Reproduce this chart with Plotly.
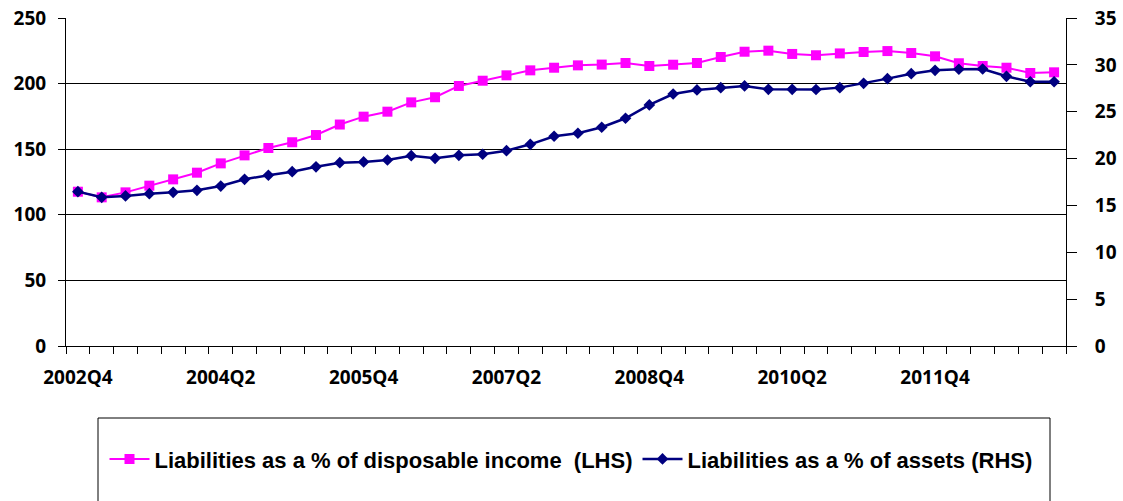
import plotly.graph_objects as go

quarters = ["2002Q4","2003Q1","2003Q2","2003Q3","2003Q4","2004Q1","2004Q2","2004Q3","2004Q4",
            "2005Q1","2005Q2","2005Q3","2005Q4","2006Q1","2006Q2","2006Q3","2006Q4",
            "2007Q1","2007Q2","2007Q3","2007Q4","2008Q1","2008Q2","2008Q3","2008Q4",
            "2009Q1","2009Q2","2009Q3","2009Q4","2010Q1","2010Q2","2010Q3","2010Q4",
            "2011Q1","2011Q2","2011Q3","2011Q4","2012Q1","2012Q2","2012Q3","2012Q4","2013Q1"]

liab_income = [117.6,113.3,117.1,122.2,127.0,132.1,139.2,145.3,150.9,155.3,160.8,168.8,174.8,178.6,
               185.7,189.6,198.2,202.2,206.3,210.1,212.1,213.9,214.5,215.7,213.4,214.4,215.7,220.3,
               224.3,225.1,222.6,221.6,223.0,224.1,224.8,223.3,220.8,215.5,213.4,212.1,208.1,208.6]

liab_assets = [16.47,15.87,16.01,16.25,16.40,16.61,17.07,17.79,18.22,18.60,19.12,19.56,19.64,19.85,
               20.31,20.03,20.35,20.46,20.84,21.52,22.38,22.70,23.34,24.30,25.72,26.89,27.32,27.57,
               27.75,27.39,27.39,27.37,27.57,28.03,28.53,29.06,29.42,29.53,29.56,28.78,28.20,28.20]

label_step = 6
left_ticks = [0, 50, 100, 150, 200, 250]
right_ticks = [0, 5, 10, 15, 20, 25, 30, 35]

names = ["Liabilities as a % of disposable income  (LHS)", "Liabilities as a % of assets (RHS)"]

x = list(range(len(quarters)))

fig = go.Figure()
fig.add_trace(go.Scatter(
    x=x, y=liab_income, name=names[0], mode="lines+markers",
    line=dict(color="#FF00FF", width=2),
    marker=dict(symbol="square", size=10, color="#FF00FF"),
    yaxis="y"))
fig.add_trace(go.Scatter(
    x=x, y=liab_assets, name=names[1], mode="lines+markers",
    line=dict(color="#000080", width=2.5),
    marker=dict(symbol="diamond", size=9, color="#000080"),
    yaxis="y2"))

tick_font = dict(family="Open Sans, Liberation Sans, Arial", size=19, color="black", weight="bold")

fig.update_layout(
    width=1123, height=501,
    margin=dict(l=66, r=57, t=18, b=155, autoexpand=False),
    paper_bgcolor="white", plot_bgcolor="white",
    showlegend=True,
    legend=dict(orientation="h", x=0.505, xanchor="center", y=-0.345, yanchor="middle",
                font=dict(family="Liberation Sans Narrow, Arial Narrow, Liberation Sans, Arial",
                          size=22, color="black", weight="bold"),
                bgcolor="rgba(0,0,0,0)", borderwidth=0, itemwidth=40, tracegroupgap=0),
    xaxis=dict(
        range=[-0.5, len(quarters) - 0.5],
        tickmode="array",
        tickvals=x[::label_step],
        ticktext=quarters[::label_step],
        ticks="", showgrid=False, zeroline=False, automargin=False,
        showline=True, linecolor="black", linewidth=1,
        tickfont=tick_font, ticklabelstandoff=14, ticklabeloverflow="allow",
        minor=dict(tickmode="array",
                   tickvals=[i - 0.5 for i in range(len(quarters) + 1)],
                   ticks="outside", ticklen=7, tickcolor="black", tickwidth=1, showgrid=False),
    ),
    yaxis=dict(
        range=[0, 250], tickmode="array", tickvals=left_ticks,
        ticks="outside", ticklen=7, tickcolor="black", automargin=False,
        showgrid=True, gridcolor="black", gridwidth=1,
        zeroline=False, showline=True, linecolor="black", linewidth=1,
        tickfont=tick_font, ticklabelstandoff=8, ticklabeloverflow="allow",
    ),
    yaxis2=dict(
        range=[0, 35], tickmode="array", tickvals=right_ticks,
        overlaying="y", side="right", automargin=False,
        ticks="outside", ticklen=10, tickcolor="black",
        showgrid=False, zeroline=False, showline=True, linecolor="black", linewidth=1,
        tickfont=tick_font, ticklabelstandoff=14, ticklabeloverflow="allow",
    ),
    shapes=[dict(type="rect", xref="paper", yref="paper",
                 x0=(98 - 66) / 1000, x1=(1050 - 66) / 1000,
                 y0=-0.49, y1=-(418 - 346) / 328,
                 line=dict(color="black", width=1), fillcolor="rgba(0,0,0,0)")],
)

fig.write_html("out.html", config={"displayModeBar": False},
               post_script="document.body.style.margin='0';")
